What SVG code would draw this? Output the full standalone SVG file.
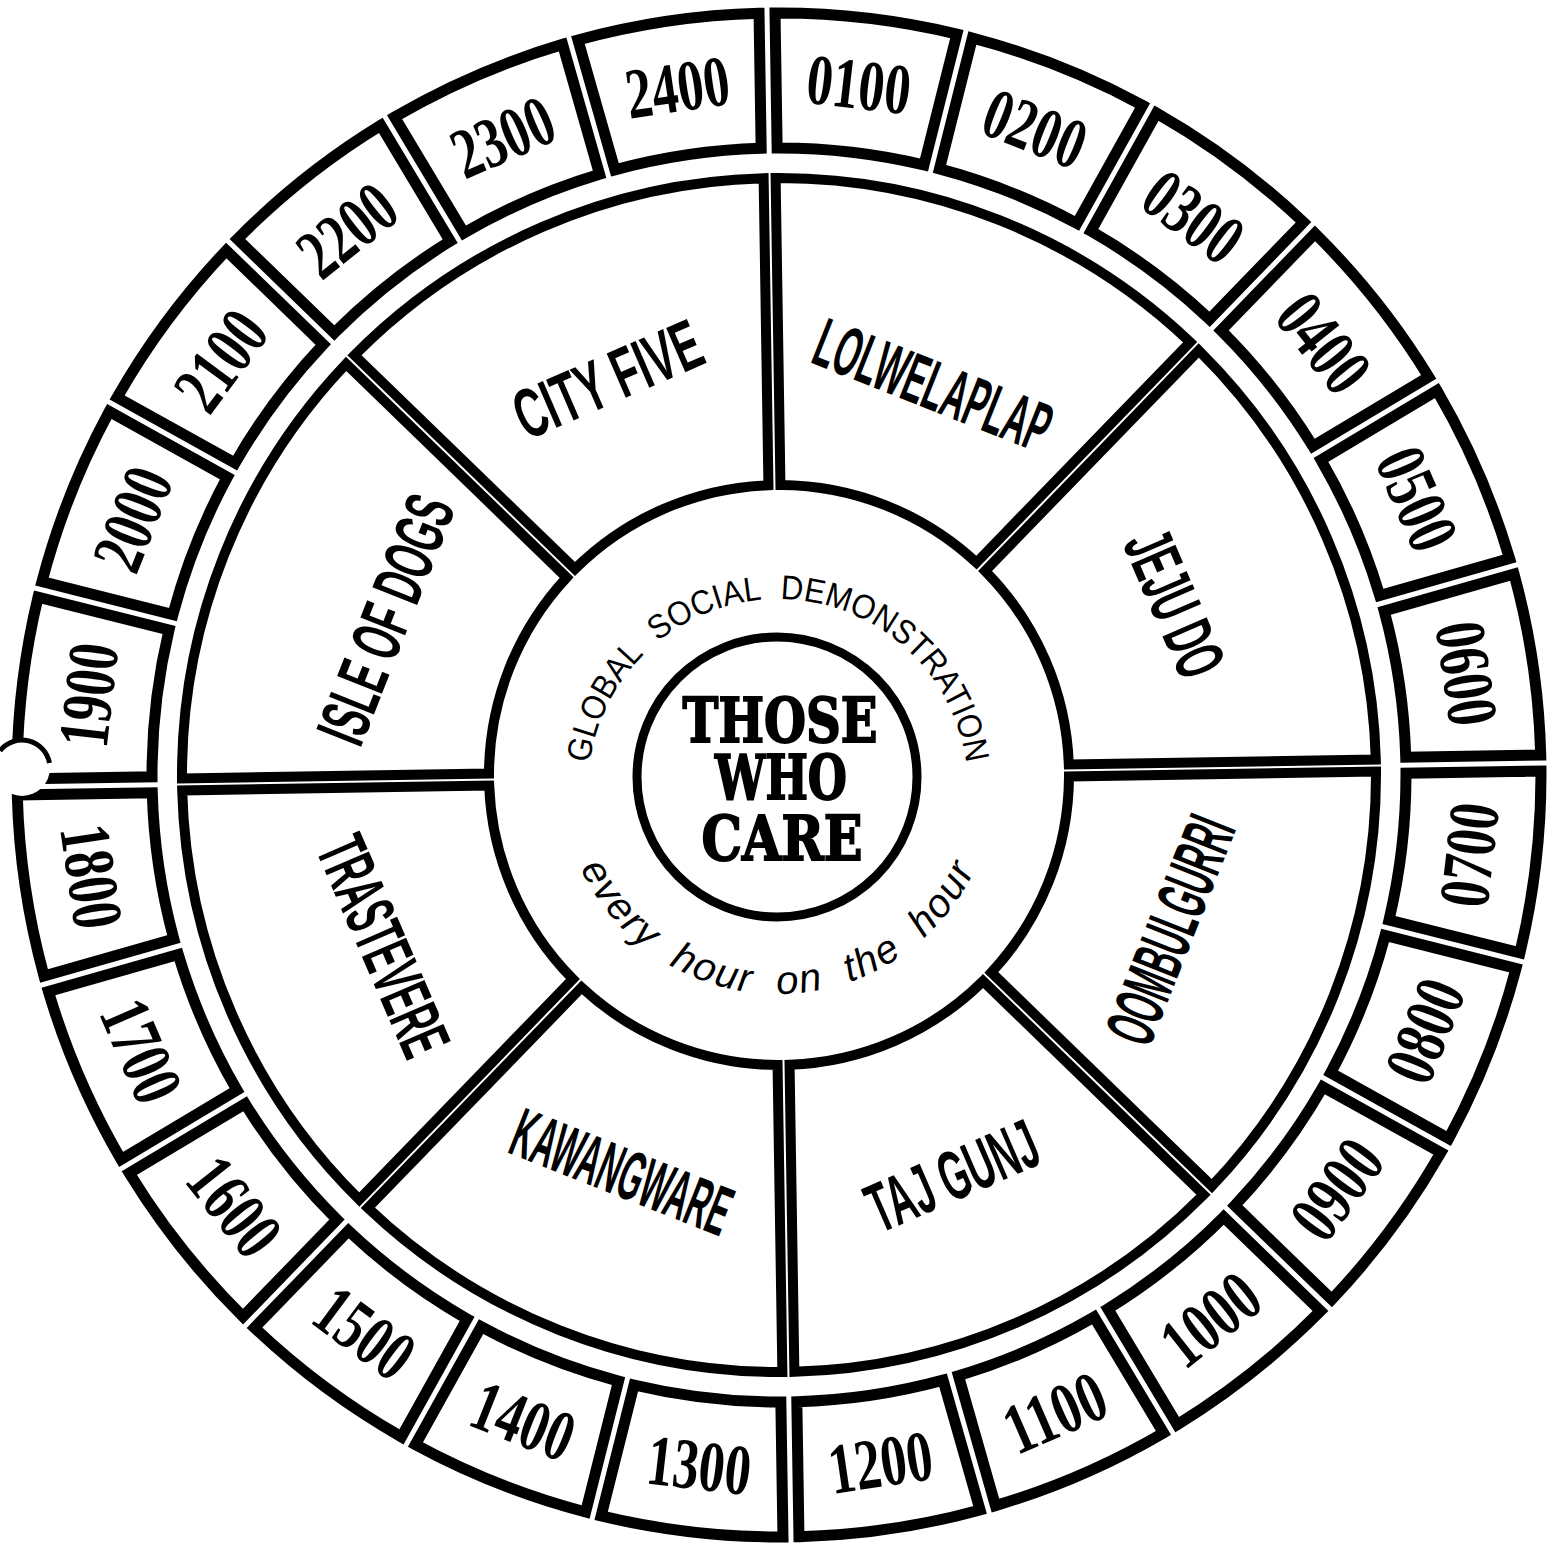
<svg xmlns="http://www.w3.org/2000/svg" xmlns:xlink="http://www.w3.org/1999/xlink" width="1554" height="1545" viewBox="0 0 1554 1545">
<style>
.box{fill:#fff;stroke:#000;stroke-width:11;stroke-linejoin:miter}
.sec{fill:#fff;stroke:#000;stroke-width:10;stroke-linejoin:miter}
.hr{font-family:"Liberation Serif",serif;font-weight:bold;font-size:72px;text-anchor:middle;fill:#000}
.lbl{font-family:"Liberation Sans Narrow","Liberation Sans",sans-serif;font-weight:bold;font-size:70px;text-anchor:middle;fill:#000}
.gsd{font-family:"Liberation Sans",Arial,sans-serif;font-size:34px;word-spacing:12px;fill:#000}
.ev{font-family:"Liberation Sans",Arial,sans-serif;font-style:italic;font-size:40px;letter-spacing:2px;word-spacing:12px;fill:#000}
.twc{font-family:"DejaVu Serif",serif;font-weight:bold;font-size:62px;text-anchor:middle;fill:#000;stroke:#000;stroke-width:2}
</style>
<defs>
<path id="boxShape" d="M-91.53,-756.47 A762,762 0 0 1 91.53,-756.47 L73.91,-622.62 A627,627 0 0 0 -73.91,-622.62 Z"/>
<path id="secShape" d="M-222.91,-553.83 A597,597 0 0 1 222.91,-553.83 L105.41,-270.17 A290,290 0 0 0 -105.41,-270.17 Z"/>
<path id="topArc" d="M588.11,782.63 A190,190 0 0 1 967.89,782.63"/>
<path id="botArc" d="M570.67,843.37 A218,218 0 0 0 985.33,843.37"/>
</defs>
<rect width="1554" height="1545" fill="#fff"/>
<g id="wheel" transform="translate(779 775) rotate(-0.9)">
<g id="hours">
<g id="h0100" transform="rotate(7.5)"><use href="#boxShape" class="box"/><text class="hr" transform="translate(0 -695)" y="24" textLength="104" lengthAdjust="spacingAndGlyphs">0100</text></g>
<g id="h0200" transform="rotate(22.5)"><use href="#boxShape" class="box"/><text class="hr" transform="translate(0 -695)" y="24" textLength="104" lengthAdjust="spacingAndGlyphs">0200</text></g>
<g id="h0300" transform="rotate(37.5)"><use href="#boxShape" class="box"/><text class="hr" transform="translate(0 -695)" y="24" textLength="104" lengthAdjust="spacingAndGlyphs">0300</text></g>
<g id="h0400" transform="rotate(52.5)"><use href="#boxShape" class="box"/><text class="hr" transform="translate(0 -695)" y="24" textLength="104" lengthAdjust="spacingAndGlyphs">0400</text></g>
<g id="h0500" transform="rotate(67.5)"><use href="#boxShape" class="box"/><text class="hr" transform="translate(0 -695)" y="24" textLength="104" lengthAdjust="spacingAndGlyphs">0500</text></g>
<g id="h0600" transform="rotate(82.5)"><use href="#boxShape" class="box"/><text class="hr" transform="translate(0 -695)" y="24" textLength="104" lengthAdjust="spacingAndGlyphs">0600</text></g>
<g id="h0700" transform="rotate(97.5)"><use href="#boxShape" class="box"/><text class="hr" transform="translate(0 -695) rotate(180)" y="24" textLength="104" lengthAdjust="spacingAndGlyphs">0700</text></g>
<g id="h0800" transform="rotate(112.5)"><use href="#boxShape" class="box"/><text class="hr" transform="translate(0 -695) rotate(180)" y="24" textLength="104" lengthAdjust="spacingAndGlyphs">0800</text></g>
<g id="h0900" transform="rotate(127.5)"><use href="#boxShape" class="box"/><text class="hr" transform="translate(0 -695) rotate(180)" y="24" textLength="104" lengthAdjust="spacingAndGlyphs">0900</text></g>
<g id="h1000" transform="rotate(142.5)"><use href="#boxShape" class="box"/><text class="hr" transform="translate(0 -695) rotate(180)" y="24" textLength="104" lengthAdjust="spacingAndGlyphs">1000</text></g>
<g id="h1100" transform="rotate(157.5)"><use href="#boxShape" class="box"/><text class="hr" transform="translate(0 -695) rotate(180)" y="24" textLength="104" lengthAdjust="spacingAndGlyphs">1100</text></g>
<g id="h1200" transform="rotate(172.5)"><use href="#boxShape" class="box"/><text class="hr" transform="translate(0 -695) rotate(180)" y="24" textLength="104" lengthAdjust="spacingAndGlyphs">1200</text></g>
<g id="h1300" transform="rotate(187.5)"><use href="#boxShape" class="box"/><text class="hr" transform="translate(0 -695) rotate(180)" y="24" textLength="104" lengthAdjust="spacingAndGlyphs">1300</text></g>
<g id="h1400" transform="rotate(202.5)"><use href="#boxShape" class="box"/><text class="hr" transform="translate(0 -695) rotate(180)" y="24" textLength="104" lengthAdjust="spacingAndGlyphs">1400</text></g>
<g id="h1500" transform="rotate(217.5)"><use href="#boxShape" class="box"/><text class="hr" transform="translate(0 -695) rotate(180)" y="24" textLength="104" lengthAdjust="spacingAndGlyphs">1500</text></g>
<g id="h1600" transform="rotate(232.5)"><use href="#boxShape" class="box"/><text class="hr" transform="translate(0 -695) rotate(180)" y="24" textLength="104" lengthAdjust="spacingAndGlyphs">1600</text></g>
<g id="h1700" transform="rotate(247.5)"><use href="#boxShape" class="box"/><text class="hr" transform="translate(0 -695) rotate(180)" y="24" textLength="104" lengthAdjust="spacingAndGlyphs">1700</text></g>
<g id="h1800" transform="rotate(262.5)"><use href="#boxShape" class="box"/><text class="hr" transform="translate(0 -695) rotate(180)" y="24" textLength="104" lengthAdjust="spacingAndGlyphs">1800</text></g>
<g id="h1900" transform="rotate(-82.5)"><use href="#boxShape" class="box"/><text class="hr" transform="translate(0 -695)" y="24" textLength="104" lengthAdjust="spacingAndGlyphs">1900</text></g>
<g id="h2000" transform="rotate(-67.5)"><use href="#boxShape" class="box"/><text class="hr" transform="translate(0 -695)" y="24" textLength="104" lengthAdjust="spacingAndGlyphs">2000</text></g>
<g id="h2100" transform="rotate(-52.5)"><use href="#boxShape" class="box"/><text class="hr" transform="translate(0 -695)" y="24" textLength="104" lengthAdjust="spacingAndGlyphs">2100</text></g>
<g id="h2200" transform="rotate(-37.5)"><use href="#boxShape" class="box"/><text class="hr" transform="translate(0 -695)" y="24" textLength="104" lengthAdjust="spacingAndGlyphs">2200</text></g>
<g id="h2300" transform="rotate(-22.5)"><use href="#boxShape" class="box"/><text class="hr" transform="translate(0 -695)" y="24" textLength="104" lengthAdjust="spacingAndGlyphs">2300</text></g>
<g id="h2400" transform="rotate(-7.5)"><use href="#boxShape" class="box"/><text class="hr" transform="translate(0 -695)" y="24" textLength="104" lengthAdjust="spacingAndGlyphs">2400</text></g>
</g>
<g id="sections">
<g id="sec-city-five" transform="rotate(-22.5)"><use href="#secShape" class="sec"/><text class="lbl" transform="translate(0 -432)" y="25" textLength="198" lengthAdjust="spacingAndGlyphs">CITY FIVE</text></g>
<g id="sec-lolwelaplap" transform="rotate(22.5)"><use href="#secShape" class="sec"/><text class="lbl" transform="translate(0 -420)" y="25" textLength="248" lengthAdjust="spacingAndGlyphs">LOLWELAPLAP</text></g>
<g id="sec-jeju-do" transform="rotate(67.5)"><use href="#secShape" class="sec"/><text class="lbl" transform="translate(0 -432)" y="25" textLength="152" lengthAdjust="spacingAndGlyphs">JEJU DO</text></g>
<g id="sec-oombulgurri" transform="rotate(112.5)"><use href="#secShape" class="sec"/><text class="lbl" transform="translate(0 -420) rotate(180)" y="25" textLength="238" lengthAdjust="spacingAndGlyphs">OOMBULGURRI</text></g>
<g id="sec-taj-gunj" transform="rotate(157.5)"><use href="#secShape" class="sec"/><text class="lbl" transform="translate(0 -436) rotate(180)" y="25" textLength="180" lengthAdjust="spacingAndGlyphs">TAJ GUNJ</text></g>
<g id="sec-kawangware" transform="rotate(202.5)"><use href="#secShape" class="sec"/><text class="lbl" transform="translate(0 -426) rotate(180)" y="25" textLength="230" lengthAdjust="spacingAndGlyphs">KAWANGWARE</text></g>
<g id="sec-trastevere" transform="rotate(247.5)"><use href="#secShape" class="sec"/><text class="lbl" transform="translate(0 -430) rotate(180)" y="25" textLength="232" lengthAdjust="spacingAndGlyphs">TRASTEVERE</text></g>
<g id="sec-isle-of-dogs" transform="rotate(-67.5)"><use href="#secShape" class="sec"/><text class="lbl" transform="translate(0 -424)" y="25" textLength="260" lengthAdjust="spacingAndGlyphs">ISLE OF DOGS</text></g>
</g>
</g>
<g id="center">
<text class="gsd"><textPath href="#topArc" startOffset="50%" text-anchor="middle" textLength="545" lengthAdjust="spacingAndGlyphs">GLOBAL SOCIAL DEMONSTRATION</textPath></text>
<text class="ev"><textPath href="#botArc" startOffset="50%" text-anchor="middle">every hour on the hour</textPath></text>
<circle cx="777" cy="777" r="140" fill="#fff" stroke="#000" stroke-width="9"/>
<text class="twc" x="780" y="742" textLength="195" lengthAdjust="spacingAndGlyphs">THOSE</text>
<text class="twc" x="781" y="799" textLength="132" lengthAdjust="spacingAndGlyphs">WHO</text>
<text class="twc" x="782" y="860" textLength="161" lengthAdjust="spacingAndGlyphs">CARE</text>
</g>
<g id="hole">
<circle cx="22" cy="768" r="28" fill="#fff"/>
<path d="M0,750.7 A28,28 0 0 1 49.5,763" fill="none" stroke="#000" stroke-width="5"/>
</g>
</svg>
